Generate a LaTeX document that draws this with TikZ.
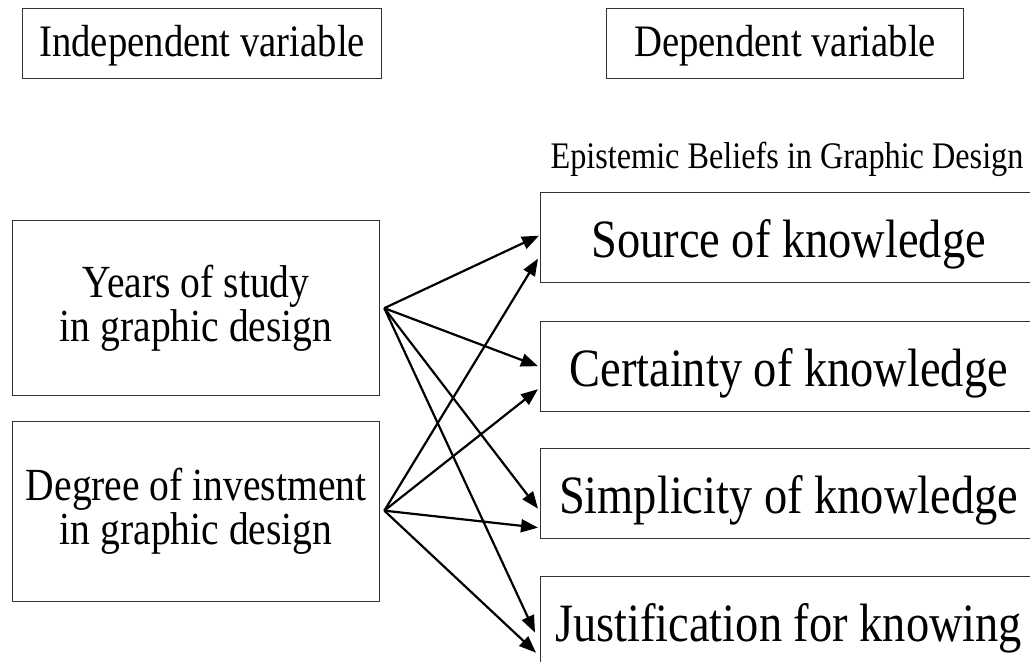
\documentclass[tikz,border=0pt]{standalone}
\usepackage{fontspec}
\setmainfont{Liberation Serif}[FakeStretch=0.86]
\usetikzlibrary{arrows.meta,calc}
\begin{document}
\begin{tikzpicture}[x=1pt,y=-1pt,
  box/.style={draw=black!80,line width=1.3pt,inner sep=0pt,anchor=north west,align=center},
  headbox/.style={box,minimum height=70pt,text height=25pt,text depth=0pt,font=\fontsize{45}{46}\selectfont},
  leftbox/.style={box,minimum width=367pt,font=\fontsize{46}{44}\selectfont},
  rightbox/.style={box,minimum width=496pt,minimum height=90pt,text height=40pt,text depth=0pt,font=\fontsize{54}{56}\selectfont},
  conn/.style={line width=2.2pt,-{Triangle[length=17pt,width=13pt]}}]
\clip (0,0) rectangle (1030,661);
\fill[white] (0,0) rectangle (1030,661);
\node[headbox,minimum width=359pt] (indep) at (22,8) {Independent variable};
\node[headbox,minimum width=357pt] (dep) at (606,8) {Dependent variable};
\node[leftbox,minimum height=175pt] (years) at (12,220) {Years of study\\in graphic design};
\node[leftbox,minimum height=180pt] (degree) at (12,421) {Degree of investment\\in graphic design};
\node[anchor=base,font=\fontsize{37.5}{40}\selectfont] (ebl) at (787,168) {Epistemic Beliefs in Graphic Design};
\node[rightbox] (src) at (540,192) {Source of knowledge};
\node[rightbox] (cert) at (540,321) {Certainty of knowledge};
\node[rightbox] (simp) at (540,448) {Simplicity of knowledge};
\node[rightbox] (just) at (540,576) {Justification for knowing};
\coordinate (ys) at ($(years.east)+(4,0)$);
\coordinate (ds) at ($(degree.east)+(4,-1)$);
\coordinate (t1) at ($(src.west)+(-1,-2)$);
\coordinate (t2) at ($(src.west)+(-2,21)$);
\coordinate (t3) at ($(cert.west)+(-2,-0.5)$);
\coordinate (t4) at ($(cert.west)+(-2,22.5)$);
\coordinate (t5) at ($(simp.west)+(-2,15)$);
\coordinate (t6) at ($(simp.west)+(-2,34)$);
\coordinate (t7) at ($(just.west)+(-5,11)$);
\coordinate (t8) at ($(just.west)+(-4,31)$);
\draw[conn] (ys) -- (t1);
\draw[conn] (ys) -- (t3);
\draw[conn] (ys) -- (t5);
\draw[conn] (ys) -- (t7);
\draw[conn] (ds) -- (t2);
\draw[conn] (ds) -- (t4);
\draw[conn] (ds) -- (t6);
\draw[conn] (ds) -- (t8);
\end{tikzpicture}
\end{document}
